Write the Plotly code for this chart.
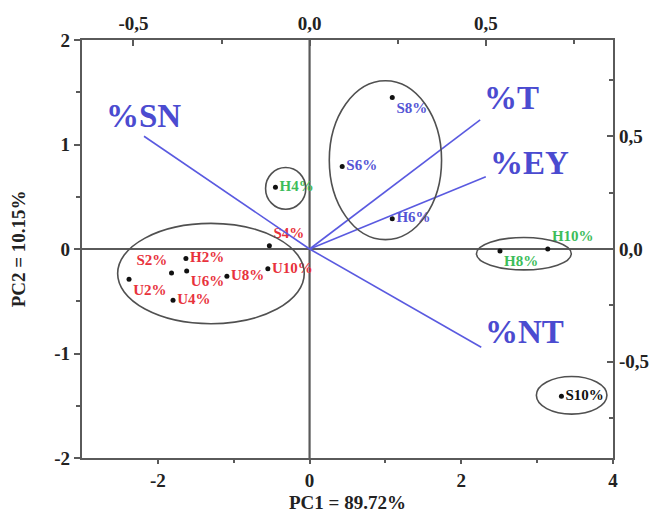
import plotly.graph_objects as go

# ---- data -------------------------------------------------------------
samples = ["S2%", "S4%", "S6%", "S8%", "S10%",
           "H2%", "H4%", "H6%", "H8%", "H10%",
           "U2%", "U4%", "U6%", "U8%", "U10%"]
pc1 = [-1.82, -0.53, 0.43, 1.09, 3.32,
       -1.63, -0.45, 1.09, 2.51, 3.14,
       -2.38, -1.80, -1.62, -1.09, -0.55]
pc2 = [-0.23, 0.03, 0.79, 1.45, -1.41,
       -0.09, 0.59, 0.29, -0.02, 0.00,
       -0.29, -0.49, -0.21, -0.26, -0.19]
groups = ["r", "r", "b", "b", "k",
          "r", "g", "b", "g", "g",
          "r", "r", "r", "r", "r"]
label_pos = ["top left", "top right", "middle right", "bottom right", "middle right",
             "middle right", "middle right", "middle right", "bottom right", "top right",
             "bottom right", "middle right", "bottom right", "middle right", "middle right"]

# loadings (top / right axes)
variables = ["%SN", "%T", "%EY", "%NT"]
load_x = [-0.47, 0.484, 0.50, 0.487]
load_y = [0.50, 0.573, 0.32, -0.436]

# cluster ellipses (x0, x1, y0, y1) in PC units
ell_x0 = [-2.53, -0.58, 0.26, 2.20, 2.99]
ell_x1 = [-0.07, -0.05, 1.74, 3.45, 3.92]
ell_y0 = [-0.715, 0.38, 0.09, -0.20, -1.58]
ell_y1 = [0.245, 0.78, 1.61, 0.11, -1.22]

x_ticks = [-2, 0, 2, 4]
y_ticks = [-2, -1, 0, 1, 2]
sec_ticks = [-0.5, 0.0, 0.5]
sec_text = ["-0,5", "0,0", "0,5"]

# ---- styling ----------------------------------------------------------
col_map = {"r": "#e8323c", "g": "#3dbd5a", "b": "#5555d5", "k": "#111111"}
serif = "Liberation Serif"
tickfont = dict(family=serif, size=19, color="#222222", weight="bold")
axis_col = "#5a5a5a"

fig = go.Figure()

# loading vectors
vx, vy = [], []
for a, b in zip(load_x, load_y):
    vx += [0, a, None]
    vy += [0, b, None]
fig.add_trace(go.Scatter(x=vx, y=vy, mode="lines", xaxis="x2", yaxis="y2",
                         line=dict(color="#5a5ae0", width=1.6),
                         hoverinfo="skip", showlegend=False))

# sample points
fig.add_trace(go.Scatter(
    x=pc1, y=pc2, mode="markers+text", text=samples,
    textposition=label_pos,
    textfont=dict(family=serif, size=15, weight="bold",
                  color=[col_map[g] for g in groups]),
    marker=dict(color="#111111", size=5),
    cliponaxis=False, showlegend=False))

shapes = []
# zero lines
shapes.append(dict(type="line", xref="x", yref="paper", x0=0, x1=0, y0=0, y1=1,
                   line=dict(color=axis_col, width=2.2), layer="below"))
shapes.append(dict(type="line", xref="paper", yref="y", x0=0, x1=1, y0=0, y1=0,
                   line=dict(color=axis_col, width=2.2), layer="below"))
for x0, x1, y0, y1 in zip(ell_x0, ell_x1, ell_y0, ell_y1):
    shapes.append(dict(type="circle", xref="x", yref="y", x0=x0, x1=x1, y0=y0, y1=y1,
                       line=dict(color="#505050", width=1.6)))

annotations = []
shift = {"%SN": (-40, 20), "%T": (2, 22), "%EY": (2, 14), "%NT": (2, 15)}
for name, a, b in zip(variables, load_x, load_y):
    dx, dy = shift[name]
    annotations.append(dict(x=a, y=b, xref="x2", yref="y2", text=name,
                            showarrow=False, xanchor="left", yanchor="middle",
                            xshift=dx, yshift=dy,
                            font=dict(family=serif, size=33, weight="bold",
                                      color="#4b4bd0")))
annotations.append(dict(x=0.5, y=0, xref="paper", yref="paper", yshift=-44,
                        text="PC1 = 89.72%", showarrow=False, yanchor="middle",
                        font=dict(family=serif, size=19, weight="bold", color="#222222")))
annotations.append(dict(x=-0.12, y=0.5, xref="paper", yref="paper",
                        text="PC2 = 10.15%", showarrow=False, textangle=-90,
                        xanchor="center", yanchor="middle",
                        font=dict(family=serif, size=19, weight="bold", color="#222222")))

common = dict(showgrid=False, zeroline=False, showline=True, linecolor=axis_col,
              linewidth=2.2, tickcolor=axis_col, tickwidth=2, tickfont=tickfont,
              automargin=False)

fig.update_layout(
    width=655, height=521,
    margin=dict(l=82, r=42, t=40, b=63),
    paper_bgcolor="white", plot_bgcolor="white",
    shapes=shapes, annotations=annotations,
    xaxis=dict(range=[-3, 4], tickvals=x_ticks, ticktext=[str(v) for v in x_ticks],
               ticks="outside", ticklen=4,
               minor=dict(tickvals=[-1, 1, 3], ticks="outside", ticklen=3,
                          tickcolor=axis_col, tickwidth=2),
               **common),
    yaxis=dict(range=[-2, 2], tickvals=y_ticks, ticktext=[str(v) for v in y_ticks],
               ticks="outside", ticklen=6,
               minor=dict(tickvals=[-1.5, -0.5, 0.5, 1.5], ticks="outside", ticklen=4,
                          tickcolor=axis_col, tickwidth=2),
               **common),
    xaxis2=dict(overlaying="x", side="top", range=[-0.646, 0.861],
                tickvals=sec_ticks, ticktext=sec_text, ticks="inside", ticklen=6,
                minor=dict(tickvals=[-0.25, 0.25, 0.75], ticks="inside", ticklen=4,
                           tickcolor=axis_col, tickwidth=2),
                **common),
    yaxis2=dict(overlaying="y", side="right", range=[-0.927, 0.927],
                tickvals=sec_ticks, ticktext=sec_text, ticks="inside", ticklen=6,
                minor=dict(tickvals=[-0.75, -0.25, 0.25, 0.75], ticks="inside", ticklen=4,
                           tickcolor=axis_col, tickwidth=2),
                **common),
)

fig.write_html("out.html")
